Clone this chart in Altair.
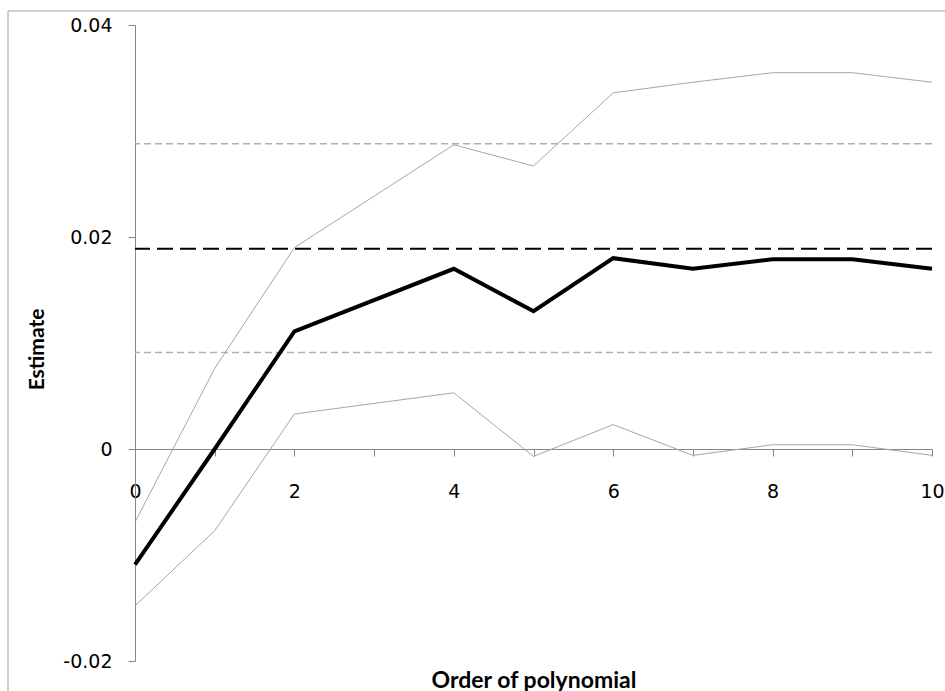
import altair as alt
import pandas as pd

# Data
orders = [0, 1, 2, 4, 5, 6, 7, 8, 9, 10]
estimate = [-0.0109, 0.0000, 0.0111, 0.0170, 0.0130, 0.0180, 0.0170, 0.0179, 0.0179, 0.0170]
upper = [-0.0069, 0.0076, 0.0190, 0.0287, 0.0267, 0.0336, 0.0346, 0.0355, 0.0355, 0.0346]
lower = [-0.0148, -0.0077, 0.0033, 0.0053, -0.0007, 0.0023, -0.0006, 0.0004, 0.0004, -0.0006]
ref_black = [0.0189]
ref_gray = [0.0288, 0.0091]

x_ticks = list(range(0, 11))
y_ticks = [-0.02, 0.0, 0.02, 0.04]

W, H = 797, 636
LEFT, TOP = 135, 25

main_df = pd.DataFrame({"order": orders, "value": estimate})
up_df = pd.DataFrame({"order": orders, "value": upper})
lo_df = pd.DataFrame({"order": orders, "value": lower})
black_df = pd.DataFrame({"value": ref_black})
gray_df = pd.DataFrame({"value": ref_gray})

xscale = alt.Scale(domain=[0, 10], nice=False, zero=False)
yscale = alt.Scale(domain=[-0.02, 0.04], nice=False, zero=False)

LABEL_FONT = "DejaVu Sans"
TITLE_FONT = "Lato"
AXIS_GRAY = "#868686"

x_axis = alt.Axis(
    values=x_ticks,
    labelExpr="datum.value % 2 == 0 ? datum.label : ''",
    offset=-212,
    grid=False,
    domainColor=AXIS_GRAY,
    tickColor=AXIS_GRAY,
    tickSize=7,
    labelPadding=26,
    labelFont=LABEL_FONT,
    labelFontSize=19,
    labelColor="black",
    labelFlush=False,
    labelOverlap=False,
    title="Order of polynomial",
    titleFont=TITLE_FONT,
    titleFontSize=23,
    titleFontWeight="bold",
    titleColor="black",
    titleY=238,
    titleBaseline="alphabetic",
)

y_axis = alt.Axis(
    values=y_ticks,
    labelExpr="datum.value < 0 ? '-' + format(-datum.value, '.2f') : (datum.value == 0 ? '0' : format(datum.value, '.2f'))",
    grid=False,
    domainColor=AXIS_GRAY,
    tickColor=AXIS_GRAY,
    tickSize=7,
    labelPadding=16,
    labelFont=LABEL_FONT,
    labelFontSize=19,
    labelColor="black",
    labelFlush=False,
    labelOverlap=False,
    title="Estimate",
    titleFont=TITLE_FONT,
    titleFontSize=21,
    titleFontWeight="bold",
    titleColor="black",
    titleX=-98,
    titleY=324,
    titleAngle=270,
    titleAlign="center",
    titleBaseline="middle",
)

border = alt.Chart(pd.DataFrame({"a": [0]})).mark_rect(
    fill="white", fillOpacity=0, stroke="#a0a0a0", strokeWidth=1
).encode(
    x=alt.value(8 - LEFT),
    x2=alt.value(945 - LEFT + 10),
    y=alt.value(11 - TOP),
    y2=alt.value(691 - TOP + 10),
)

gray_rules = alt.Chart(gray_df).mark_rule(
    color="#b0b0b0", strokeWidth=1.5, strokeDash=[7, 4]
).encode(y=alt.Y("value:Q", scale=yscale, axis=y_axis))

black_rule = alt.Chart(black_df).mark_rule(
    color="black", strokeWidth=2, strokeDash=[16, 7]
).encode(y=alt.Y("value:Q", scale=yscale))

def ci_line(df):
    return alt.Chart(df).mark_line(color="#a6a6a6", strokeWidth=1).encode(
        x=alt.X("order:Q", scale=xscale, axis=x_axis),
        y=alt.Y("value:Q", scale=yscale, axis=y_axis),
    )

main_line = alt.Chart(main_df).mark_line(color="black", strokeWidth=4).encode(
    x=alt.X("order:Q", scale=xscale, axis=x_axis),
    y=alt.Y("value:Q", scale=yscale, axis=y_axis),
)

chart = alt.layer(
    border, gray_rules, black_rule, ci_line(up_df), ci_line(lo_df), main_line
).properties(
    width=W,
    height=H,
    autosize=alt.AutoSizeParams(type="none"),
    padding={"left": LEFT, "top": TOP, "right": 945 - LEFT - W, "bottom": 691 - TOP - H},
    background="white",
).configure_view(stroke=None)

chart.save("out.html", embed_options={"renderer": "svg", "actions": False})
